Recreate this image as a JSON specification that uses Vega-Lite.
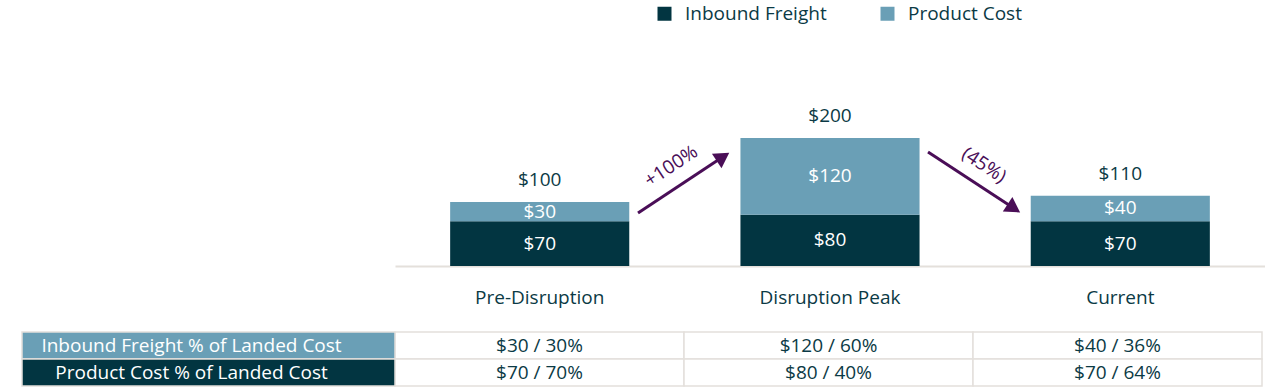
{
  "$schema": "https://vega.github.io/schema/vega-lite/v6.json",
  "padding": 0,
  "bounds": "flush",
  "spacing": 66,
  "config": {"view": {"stroke": null}, "font": "Open Sans"},
  "datasets": {
    "bars": [
      {"stage": "Pre-Disruption", "component": "Inbound Freight", "value": 70},
      {"stage": "Pre-Disruption", "component": "Product Cost", "value": 30},
      {"stage": "Disruption Peak", "component": "Inbound Freight", "value": 80},
      {"stage": "Disruption Peak", "component": "Product Cost", "value": 120},
      {"stage": "Current", "component": "Inbound Freight", "value": 70},
      {"stage": "Current", "component": "Product Cost", "value": 40}
    ],
    "totals": [
      {"stage": "Pre-Disruption", "total": 100},
      {"stage": "Disruption Peak", "total": 200},
      {"stage": "Current", "total": 110}
    ],
    "arrows": [
      {"label": "+100%", "x0": 0.838, "y0": 82.8, "x1": 1.131, "y1": 170.8, "lx": 0.952, "ly": 156},
      {"label": "(45%)", "x0": 1.838, "y0": 178.1, "x1": 2.134, "y1": 90.2, "lx": 2.031, "ly": 157.8}
    ],
    "table": [
      {"metric": "Inbound Freight % of Landed Cost", "stage": "Pre-Disruption", "text": "$30 / 30%"},
      {"metric": "Inbound Freight % of Landed Cost", "stage": "Disruption Peak", "text": "$120 / 60%"},
      {"metric": "Inbound Freight % of Landed Cost", "stage": "Current", "text": "$40 / 36%"},
      {"metric": "Product Cost % of Landed Cost", "stage": "Pre-Disruption", "text": "$70 / 70%"},
      {"metric": "Product Cost % of Landed Cost", "stage": "Disruption Peak", "text": "$80 / 40%"},
      {"metric": "Product Cost % of Landed Cost", "stage": "Current", "text": "$70 / 64%"}
    ],
    "metrics": [
      {"metric": "Inbound Freight % of Landed Cost"},
      {"metric": "Product Cost % of Landed Cost"}
    ]
  },
  "vconcat": [
    {
      "width": 1265,
      "height": 266,
      "layer": [
        {
          "layer": [
            {
              "data": {"name": "bars"},
              "mark": {"type": "bar"},
              "encoding": {
                "x": {"field": "stage", "type": "nominal", "title": null,
                  "scale": {"domain": ["Pre-Disruption", "Disruption Peak", "Current"], "range": [395, 1265], "paddingInner": 0.383, "paddingOuter": 0.19},
                  "axis": {"labelAngle": 0, "ticks": false, "labelPadding": 31, "labelFontSize": 19, "labelColor": "#0b3a45", "domainColor": "#e4e0db", "domainWidth": 2, "labelBaseline": "middle"}},
                "y": {"field": "value", "type": "quantitative", "stack": "zero", "scale": {"domain": [0, 416], "nice": false}, "axis": null},
                "color": {"field": "component", "type": "nominal",
                  "scale": {"domain": ["Inbound Freight", "Product Cost"], "range": ["#023541", "#6a9fb6"]},
                  "legend": {"title": null, "orient": "none", "legendX": 655, "legendY": 4, "direction": "horizontal", "symbolType": "square", "symbolSize": 196, "symbolStrokeWidth": 0, "labelFontSize": 19, "labelColor": "#0b3a45", "labelOffset": 11, "columnPadding": 51, "labelLimit": 300}},
                "order": {"field": "component", "sort": "ascending"}
              }
            },
            {
              "data": {"name": "bars"},
              "mark": {"type": "text", "color": "white", "fontSize": 19, "baseline": "middle"},
              "encoding": {
                "x": {"field": "stage", "type": "nominal"},
                "y": {"field": "value", "type": "quantitative", "stack": "zero", "bandPosition": 0.5},
                "detail": {"field": "component"},
                "order": {"field": "component", "sort": "ascending"},
                "text": {"field": "value", "type": "quantitative", "format": "$,.0f"}
              }
            },
            {
              "data": {"name": "totals"},
              "mark": {"type": "text", "color": "#0b3a45", "fontSize": 19, "baseline": "middle", "dy": -22},
              "encoding": {
                "x": {"field": "stage", "type": "nominal"},
                "y": {"field": "total", "type": "quantitative"},
                "text": {"field": "total", "type": "quantitative", "format": "$,.0f"}
              }
            }
          ]
        },
        {
          "data": {"name": "arrows"},
          "layer": [
            {
              "mark": {"type": "rule", "color": "#4a0e57", "strokeWidth": 3},
              "encoding": {
                "x": {"field": "x0", "type": "quantitative", "scale": {"domain": [0, 3], "range": [395, 1265], "nice": false, "zero": false}, "axis": null},
                "y": {"field": "y0", "type": "quantitative"},
                "x2": {"field": "x1"},
                "y2": {"field": "y1"}
              }
            },
            {
              "transform": [{"filter": "datum.label === '+100%'"}],
              "mark": {"type": "point", "shape": "triangle-up", "filled": true, "color": "#4a0e57", "opacity": 1, "size": 300, "angle": 56.5},
              "encoding": {
                "x": {"field": "x1", "type": "quantitative"},
                "y": {"field": "y1", "type": "quantitative"}
              }
            },
            {
              "transform": [{"filter": "datum.label === '(45%)'"}],
              "mark": {"type": "point", "shape": "triangle-up", "filled": true, "color": "#4a0e57", "opacity": 1, "size": 300, "angle": 123.5},
              "encoding": {
                "x": {"field": "x1", "type": "quantitative"},
                "y": {"field": "y1", "type": "quantitative"}
              }
            },
            {
              "transform": [{"filter": "datum.label === '+100%'"}],
              "mark": {"type": "text", "color": "#4a0e57", "fontSize": 19, "angle": 326.5, "baseline": "middle"},
              "encoding": {
                "x": {"field": "lx", "type": "quantitative"},
                "y": {"field": "ly", "type": "quantitative"},
                "text": {"field": "label"}
              }
            },
            {
              "transform": [{"filter": "datum.label === '(45%)'"}],
              "mark": {"type": "text", "color": "#4a0e57", "fontSize": 19, "angle": 33.5, "baseline": "middle"},
              "encoding": {
                "x": {"field": "lx", "type": "quantitative"},
                "y": {"field": "ly", "type": "quantitative"},
                "text": {"field": "label"}
              }
            }
          ]
        }
      ],
      "resolve": {"scale": {"x": "independent"}, "axis": {"x": "independent"}}
    },
    {
      "width": 1265,
      "height": 54,
      "layer": [
        {
          "layer": [
            {
              "data": {"name": "table"},
              "mark": {"type": "rect", "fill": "white", "stroke": "#e4e0db", "strokeWidth": 1.5},
              "encoding": {
                "x": {"field": "stage", "type": "nominal", "scale": {"domain": ["Pre-Disruption", "Disruption Peak", "Current"], "range": [395, 1262], "paddingInner": 0, "paddingOuter": 0}, "axis": null},
                "y": {"field": "metric", "type": "nominal", "scale": {"domain": ["Inbound Freight % of Landed Cost", "Product Cost % of Landed Cost"], "paddingInner": 0, "paddingOuter": 0}, "axis": null}
              }
            },
            {
              "data": {"name": "table"},
              "mark": {"type": "text", "color": "#0b3a45", "fontSize": 19, "baseline": "middle"},
              "encoding": {
                "x": {"field": "stage", "type": "nominal", "axis": null},
                "y": {"field": "metric", "type": "nominal", "axis": null},
                "text": {"field": "text"}
              }
            }
          ]
        },
        {
          "data": {"name": "metrics"},
          "layer": [
            {
              "mark": {"type": "rect", "stroke": "#e4e0db", "strokeWidth": 1.5},
              "encoding": {
                "x": {"datum": "label", "type": "nominal", "scale": {"domain": ["label"], "range": [22, 395], "paddingInner": 0, "paddingOuter": 0}, "axis": null},
                "y": {"field": "metric", "type": "nominal", "axis": null},
                "color": {"condition": {"test": "datum.metric === 'Inbound Freight % of Landed Cost'", "value": "#6a9fb6"}, "value": "#023541"}
              }
            },
            {
              "mark": {"type": "text", "color": "white", "fontSize": 19, "baseline": "middle", "dx": -17},
              "encoding": {
                "x": {"datum": "label", "type": "nominal", "axis": null},
                "y": {"field": "metric", "type": "nominal", "axis": null},
                "text": {"field": "metric"}
              }
            }
          ]
        }
      ],
      "resolve": {"scale": {"x": "independent"}}
    }
  ]
}
